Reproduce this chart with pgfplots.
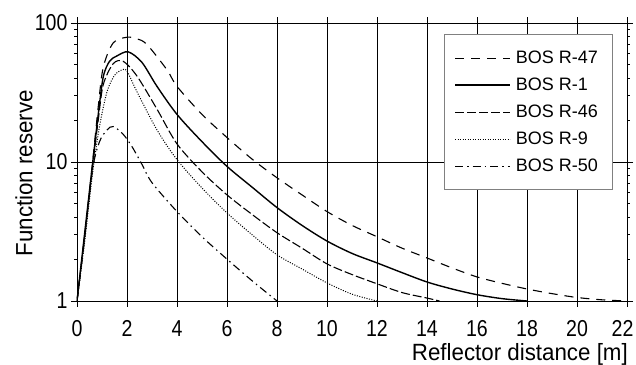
\documentclass[border=0pt]{standalone}
\usepackage{fontspec}
\setmainfont{Liberation Sans}
\newfontfamily\tickfont[FakeStretch=0.85]{Liberation Sans}
\newfontfamily\labelfont[FakeStretch=0.95]{Liberation Sans}
\usepackage{pgfplots}
\pgfplotsset{compat=1.18}
\begin{document}
\begin{tikzpicture}
\useasboundingbox (-77bp,-64bp) rectangle (559bp,301bp);
\begin{axis}[
  at={(0,0)}, anchor=south west,
  scale only axis, width=550bp, height=278bp,
  xmin=0, xmax=22, ymin=1, ymax=100,
  ymode=log,
  xtick={0,2,...,22},
  xticklabels={0,2,4,6,8,10,12,14,16,18,20,{\kern-9bp 22}},
  ytick={1,10,100}, yticklabels={1,10,100},
  minor ytick={},
  grid=major,
  major grid style={black, line width=0.8bp},
  axis line style={black, line width=0.9bp},
  tick style={black, line width=0.8bp},
  tick align=outside, major tick length=6bp,
  xtick pos=both, ytick pos=both,
  /pgf/number format/assume math mode=true,
  ticklabel style={font=\tickfont\fontsize{23bp}{27bp}\selectfont},
  xticklabel style={anchor=base, yshift=-30bp},
  xticklabel pos=lower, yticklabel pos=left,
  xlabel={Reflector distance [m]},
  ylabel={Function reserve},
  label style={font=\labelfont\fontsize{23.5bp}{28bp}\selectfont},
  xlabel style={at={(axis description cs:1,0)}, anchor=base east, yshift=-59bp, xshift=1bp, inner sep=0pt},
  ylabel style={at={(axis description cs:0,0.46)}, anchor=center, yshift=53bp, inner sep=0pt},
  legend style={at={(0.975,0.96)}, anchor=north east, draw=gray, fill=white,
    font=\fontsize{18bp}{21bp}\selectfont,
    nodes={font=\fontsize{18bp}{21bp}\selectfont, inner xsep=5bp, inner ysep=3.5bp},
    inner xsep=10bp, inner ysep=13bp, row sep=6bp,
    line width=0.8bp},
  legend cell align=left,
  legend image code/.code={\draw[#1] (0bp,0bp) -- (55bp,0bp);},
  every axis plot/.append style={black, line width=1.1bp, smooth},
]
% BOS R-47
\addplot[dash pattern=on 9bp off 7bp] coordinates {
(0,1) (0.3,2.8) (0.6,9) (0.85,25) (1.05,48) (1.45,72) (2.0,79) (2.4,77) (2.8,70) (3.6,46) (4,35) (5,22) (6,15) (7,10.5) (8,7.7) (9,5.8) (10,4.4) (11,3.5) (12,2.9) (13,2.4) (14,2.04) (15,1.73) (16,1.49) (17,1.34) (18,1.22) (19,1.13) (20,1.06) (21,1.02) (22,1.0)};
\addlegendentry{BOS R-47}
% BOS R-1
\addplot[line width=1.4bp] coordinates {
(0,1) (0.3,3) (0.63,10) (0.85,22) (1.05,41) (1.3,53) (1.6,58) (2.05,62) (2.6,52) (3.2,35) (4,22) (5,14) (6,9.3) (7,6.6) (8,4.7) (9,3.5) (10,2.7) (11,2.2) (12,1.88) (13,1.6) (14,1.37) (15,1.22) (16,1.11) (17,1.04) (18,1.0)};
\addlegendentry{BOS R-1}
% BOS R-46
\addplot[dash pattern=on 9bp off 3bp] coordinates {
(0,1) (0.3,2.9) (0.63,9.5) (0.85,20) (1.05,36) (1.45,51) (1.85,53) (2.4,41.5) (3.2,24) (4,13.5) (5,8.5) (6,5.8) (7,4.2) (8,3.1) (9,2.4) (10,1.85) (11,1.55) (12,1.33) (13,1.15) (14,1.05) (14.5,1.0)};
\addlegendentry{BOS R-46}
% BOS R-9
\addplot[line width=1bp, dash pattern=on 1bp off 1.5bp] coordinates {
(0,1) (0.3,2.6) (0.63,8.5) (0.9,18) (1.2,32) (1.5,42) (1.8,46) (2.0,45) (2.4,32) (3.2,17) (4,10.4) (5,6.5) (6,4.3) (7,3.0) (8,2.15) (9,1.7) (10,1.35) (11,1.12) (12,1.0)};
\addlegendentry{BOS R-9}
% BOS R-50
\addplot[dash pattern=on 8bp off 4bp on 1.5bp off 4bp] coordinates {
(0,1) (0.3,2.8) (0.63,9) (0.9,14) (1.2,17) (1.45,18) (1.85,15.8) (2.2,12.9) (2.6,9.6) (3,7.1) (4,4.4) (5,2.9) (6,2.0) (7,1.4) (8,1.0)};
\addlegendentry{BOS R-50}
\end{axis}
\end{tikzpicture}
\end{document}
